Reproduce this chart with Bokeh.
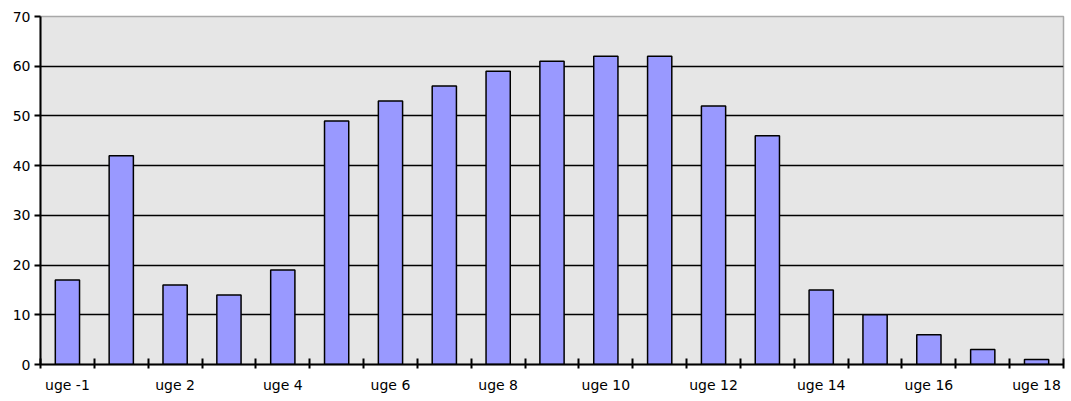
from bokeh.plotting import figure
from bokeh.models import Range1d, FixedTicker, ColumnDataSource
from bokeh.embed import file_html
from bokeh.resources import INLINE

categories = ["uge -1", "uge 1", "uge 2", "uge 3", "uge 4", "uge 5", "uge 6", "uge 7",
              "uge 8", "uge 9", "uge 10", "uge 11", "uge 12", "uge 13", "uge 14",
              "uge 15", "uge 16", "uge 17", "uge 18"]
values = [17, 42, 16, 14, 19, 49, 53, 56, 59, 61, 62, 62, 52, 46, 15, 10, 6, 3, 1]
y_ticks = [0, 10, 20, 30, 40, 50, 60, 70]

n = len(categories)
centers = [i + 0.5 for i in range(n)]
src = ColumnDataSource(dict(x=centers, top=values, cat=categories))

p = figure(width=1066, height=396, output_backend="svg", toolbar_location=None,
           x_range=Range1d(0, n), y_range=Range1d(0, 70),
           min_border_left=40, min_border_right=3, min_border_top=16, min_border_bottom=32)
p.background_fill_color = "#E6E6E6"
p.border_fill_color = "white"
p.outline_line_color = "#A8A8A8"
p.outline_line_width = 1.5

p.vbar(x="x", top="top", width=0.45, bottom=0, source=src,
       fill_color="#9999FF", line_color="black", line_width=1.5)

# y axis
p.yaxis.ticker = FixedTicker(ticks=y_ticks)
p.yaxis.major_tick_in = 0
p.yaxis.major_tick_out = 6
p.yaxis.minor_tick_line_color = None
p.yaxis.axis_line_color = "black"
p.yaxis.axis_line_width = 2
p.yaxis.major_tick_line_width = 2
p.yaxis.major_label_standoff = 4
p.yaxis.major_label_text_font = "DejaVu Sans"
p.yaxis.major_label_text_font_size = "14px"
p.yaxis.major_label_text_color = "black"

# x axis
label_ticks = [centers[i] for i in range(0, n, 2)]
p.xaxis.ticker = FixedTicker(ticks=label_ticks, minor_ticks=list(range(n + 1)))
p.xaxis.major_label_overrides = {centers[i]: categories[i] for i in range(0, n, 2)}
p.xaxis.major_tick_in = 0
p.xaxis.major_tick_out = 0
p.xaxis.minor_tick_in = 6
p.xaxis.minor_tick_out = 4
p.xaxis.minor_tick_line_color = "black"
p.xaxis.minor_tick_line_width = 2
p.xaxis.axis_line_color = "black"
p.xaxis.axis_line_width = 2
p.xaxis.major_label_standoff = 8
p.xaxis.major_label_text_font = "DejaVu Sans"
p.xaxis.major_label_text_font_size = "14px"
p.xaxis.major_label_text_color = "black"

# grid
p.xgrid.grid_line_color = None
p.ygrid.ticker = FixedTicker(ticks=[t for t in y_ticks if 0 < t < 70])
p.ygrid.grid_line_color = "black"
p.ygrid.grid_line_width = 1.5

open("out.html", "w").write(file_html(p, INLINE))
